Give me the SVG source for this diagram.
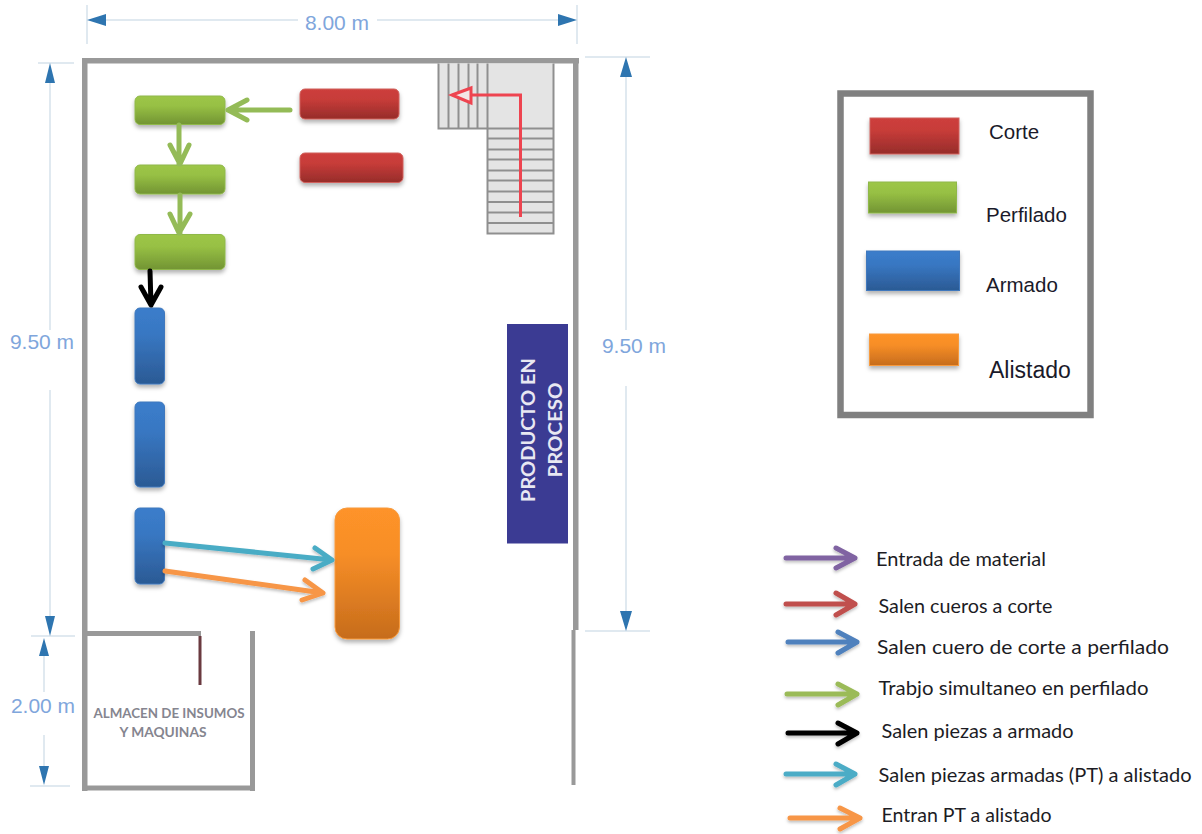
<svg xmlns="http://www.w3.org/2000/svg" width="1202" height="834" viewBox="0 0 1202 834">
<style>
.wall{fill:#999}
.dim{stroke:#d6e2ec;stroke-width:1.5;fill:none}
.dimh{fill:#2e75b0}
.dimt{font:21px "Liberation Sans",Arial,sans-serif;fill:#7fa6dc}
.lg{font:20.500px "Liberation Sans",Arial,sans-serif;fill:#1a1a2a}
.ar{font:19px Lato,sans-serif;fill:#1c1c24}
.st{stroke:#8f8f8f;stroke-width:2;fill:none}
.arrow{fill:none;stroke-width:5;stroke-linecap:round;stroke-linejoin:round}
.red{fill:url(#gr);stroke:#d0605c;stroke-width:1;filter:url(#sh)}
.grn{fill:url(#gg);stroke:#8fb84a;stroke-width:1;filter:url(#sh)}
.blu{fill:url(#gb);stroke:#3f78bd;stroke-width:1;filter:url(#sh)}
.org{fill:url(#go);stroke:#f79a3c;stroke-width:1;filter:url(#sh)}
</style>
<defs>
<linearGradient id="gr" x1="0" y1="0" x2="0" y2="1"><stop offset="0" stop-color="#cd3f3c"/><stop offset=".35" stop-color="#c73c39"/><stop offset="1" stop-color="#962c2a"/></linearGradient>
<linearGradient id="gg" x1="0" y1="0" x2="0" y2="1"><stop offset="0" stop-color="#9dc647"/><stop offset=".35" stop-color="#97c044"/><stop offset="1" stop-color="#729433"/></linearGradient>
<linearGradient id="gb" x1="0" y1="0" x2="0" y2="1"><stop offset="0" stop-color="#3b7dcb"/><stop offset=".35" stop-color="#3877c2"/><stop offset="1" stop-color="#2b5a94"/></linearGradient>
<linearGradient id="go" x1="0" y1="0" x2="0" y2="1"><stop offset="0" stop-color="#fe9329"/><stop offset=".35" stop-color="#f78e27"/><stop offset="1" stop-color="#c66c1c"/></linearGradient>
<filter id="sh" x="-20%" y="-20%" width="140%" height="150%"><feDropShadow dx="0" dy="3" stdDeviation="2" flood-color="#000" flood-opacity=".3"/></filter>
<filter id="sa" x="-10%" y="-50%" width="120%" height="220%"><feDropShadow dx="0" dy="2" stdDeviation="1.5" flood-color="#000" flood-opacity=".25"/></filter>
</defs>

<g id="walls">
<rect class="wall" x="82" y="58" width="497" height="5.500"/>
<rect class="wall" x="82" y="58" width="5.500" height="733"/>
<rect class="wall" x="573" y="58" width="5.500" height="572"/>
<rect class="wall" x="571.500" y="630" width="4" height="155"/>
<rect class="wall" x="82" y="631" width="119" height="5"/>
<rect class="wall" x="250" y="631" width="5" height="160"/>
<rect class="wall" x="82" y="785.500" width="173" height="5"/>
<rect x="198.500" y="636" width="3" height="49" fill="#6a3a40"/>
</g>

<g id="dimensions">
<path class="dim" d="M87 5V44M577 5V44M100 20H298M377 20H560"/>
<path class="dim" d="M38 63H74M50 80V330M50 390V617M31 636H75M44 655V692M44 735V767M30 786H70"/>
<path class="dim" d="M585 57H650M626 76V330M626 386V612M585 631H650"/>
<path class="dimh" d="M87 20L106 14V26ZM577 20L558 14V26ZM50 63L45 83H55ZM50 636L45 616H55ZM44 638L39 656H49ZM44 785L39 766H49ZM626 57L620 77H632ZM626 631L620 611H632Z"/>
<text class="dimt" x="337" y="30" text-anchor="middle">8.00 m</text>
<text class="dimt" x="42" y="349" text-anchor="middle">9.50 m</text>
<text class="dimt" x="634" y="353" text-anchor="middle">9.50 m</text>
<text class="dimt" x="43" y="713" text-anchor="middle">2.00 m</text>
</g>

<g id="stairs">
<rect x="438.500" y="63.500" width="49" height="65" fill="#e4e4e4"/>
<rect x="487.500" y="63.500" width="66" height="170" fill="#e4e4e4"/>
<path class="st" d="M438.500 63.500V128.500H487.500M448.500 63.500V128.500M458.500 63.500V128.500M468.500 63.500V128.500M477.500 63.500V128.500M487.500 63.500V233.500H553.500V63.500M487.500 128.500H553.500M487.500 138.500H553.500M487.500 149.500H553.500M487.500 159.500H553.500M487.500 170.500H553.500M487.500 180.500H553.500M487.500 191.500H553.500M487.500 202H553.500M487.500 212.500H553.500M487.500 223H553.500"/>
<path d="M520.500 217V95H471" fill="none" stroke="#ee4450" stroke-width="3"/>
<path d="M452 95L471 88V103Z" fill="#f3e6e6" stroke="#ee4450" stroke-width="3"/>
</g>

<g id="corte-1"><rect class="red" x="300" y="89" width="99" height="30" rx="5"/></g>
<g id="corte-2"><rect class="red" x="300" y="153" width="103" height="29.500" rx="5"/></g>
<g id="perfilado-1"><rect class="grn" x="135" y="96" width="90" height="28.500" rx="5"/></g>
<g id="perfilado-2"><rect class="grn" x="135" y="165" width="90" height="29" rx="5"/></g>
<g id="perfilado-3"><rect class="grn" x="135" y="234.500" width="90" height="35" rx="5"/></g>
<g id="armado-1"><rect class="blu" x="135" y="308" width="29.500" height="76" rx="5"/></g>
<g id="armado-2"><rect class="blu" x="135" y="402" width="29.500" height="85" rx="5"/></g>
<g id="armado-3"><rect class="blu" x="135" y="508" width="29.500" height="76" rx="5"/></g>
<g id="alistado"><rect class="org" x="335" y="508" width="64.500" height="131" rx="12"/></g>

<g id="producto">
<rect x="507" y="324" width="61" height="219.500" fill="#3b3b93"/>
<text transform="translate(535 430) rotate(-90)" text-anchor="middle" font-family="Lato,sans-serif" font-size="19" font-weight="700" fill="#e8e8f2" textLength="144" lengthAdjust="spacingAndGlyphs">PRODUCTO EN</text>
<text transform="translate(562 430) rotate(-90)" text-anchor="middle" font-family="Lato,sans-serif" font-size="19" font-weight="700" fill="#e8e8f2" textLength="95" lengthAdjust="spacingAndGlyphs">PROCESO</text>
</g>

<g id="almacen" font-family="Lato,sans-serif" font-size="13.500" font-weight="700" fill="#85858f">
<text x="169" y="718" text-anchor="middle" textLength="151" lengthAdjust="spacingAndGlyphs">ALMACEN DE INSUMOS</text>
<text x="163" y="737" text-anchor="middle" textLength="87" lengthAdjust="spacingAndGlyphs">Y MAQUINAS</text>
</g>

<g id="connectors" class="arrow">
<g stroke="#94bb57">
<path class="arrow" d="M290 110H228M247 100L228 110L247 120"/>
<path class="arrow" d="M179 125V164M170 145L180 164L189 145"/>
<path class="arrow" d="M180 195V233M170 214L179 233L190 214"/>
</g>
<path class="arrow" stroke="#000" d="M150 271L151 305M141 287L151 305L161 287"/>
<g filter="url(#sa)">
<path class="arrow" stroke="#4aacc5" d="M165 543L332 560M315 548L332 560L313 569"/>
<path class="arrow" stroke="#f79646" d="M165 571L323 593M305 580L323 593L302 600"/>
</g>
</g>

<g id="legend-box">
<rect x="840.500" y="93.500" width="250" height="321.500" fill="#fff" stroke="#808080" stroke-width="6.500"/>
</g>
<g id="legend-corte"><rect class="red" x="870" y="118" width="89" height="36"/><text class="lg" x="989" y="139">Corte</text></g>
<g id="legend-perfilado"><rect class="grn" x="868.500" y="182" width="88" height="31"/><text class="lg" x="986" y="222">Perfilado</text></g>
<g id="legend-armado"><rect class="blu" x="866.500" y="251" width="93" height="39.500"/><text class="lg" x="986" y="292">Armado</text></g>
<g id="legend-alistado"><rect class="org" x="869.500" y="334" width="89" height="31.500"/><text class="lg" x="989" y="378" style="font-size:23px">Alistado</text></g>

<g id="arrow-legend" filter="url(#sa)">
<path class="arrow" stroke="#8064a2" d="M786 558H855M836 548L855 558L836 568"/>
<path class="arrow" stroke="#c0504d" d="M786 604H855M836 593L855 604L836 615"/>
<path class="arrow" stroke="#4f81bd" d="M788 642H857M838 632L857 642L838 653"/>
<path class="arrow" stroke="#9bbb59" d="M787 694H857M838 684L857 694L838 705"/>
<path class="arrow" stroke="#000" d="M788 733H857M838 723L857 733L838 744"/>
<path class="arrow" stroke="#4bacc6" d="M786 774H855M836 764L855 774L836 785"/>
<path class="arrow" stroke="#f79646" d="M790 818H860M840 808L860 818L840 829"/>
</g>
<g id="arrow-legend-text">
<text class="ar" x="876" y="566" textLength="170" lengthAdjust="spacingAndGlyphs">Entrada de material</text>
<text class="ar" x="878.500" y="613" textLength="174" lengthAdjust="spacingAndGlyphs">Salen cueros a corte</text>
<text class="ar" x="877" y="654" textLength="292" lengthAdjust="spacingAndGlyphs">Salen cuero de corte a perfilado</text>
<text class="ar" x="878.500" y="695" textLength="270" lengthAdjust="spacingAndGlyphs">Trabjo simultaneo en perfilado</text>
<text class="ar" x="881.500" y="738" textLength="192" lengthAdjust="spacingAndGlyphs">Salen piezas a armado</text>
<text class="ar" x="878.500" y="782" textLength="313" lengthAdjust="spacingAndGlyphs">Salen piezas armadas (PT) a alistado</text>
<text class="ar" x="881.500" y="822" textLength="170" lengthAdjust="spacingAndGlyphs">Entran PT a alistado</text>
</g>
</svg>
